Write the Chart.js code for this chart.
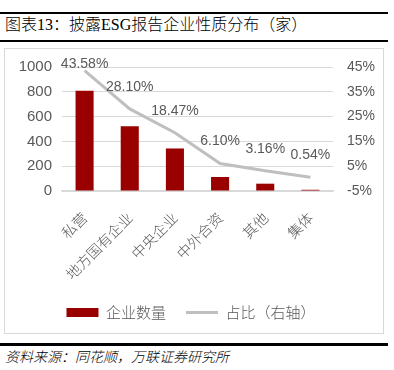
<!DOCTYPE html>
<html>
<head>
<meta charset="utf-8">
<script src="https://cdn.jsdelivr.net/npm/chart.js@4"></script>
<style>
  html, body { margin: 0; padding: 0; background: #fff; }
  #page { position: relative; width: 394px; height: 370px; overflow: hidden; }
  .rule { position: absolute; left: 0; width: 388px; background: #000; }
  #title {
    position: absolute; left: 5px; top: 15px;
    font: 300 16px "Liberation Serif", "Noto Sans CJK SC", serif; color: #000;
    white-space: nowrap; line-height: 20px;
  }
  #frame {
    position: absolute; left: 4px; top: 48px; width: 378px; height: 284px;
    border: 1px solid #d9d9d9;
  }
  #source {
    position: absolute; left: 5px; top: 347px;
    font: italic 300 14px "Noto Sans CJK SC", sans-serif; color: #000;
    white-space: nowrap; line-height: 18px;
  }
  #chart { position: absolute; left: 0; top: 0; }
</style>
</head>
<body>
<div id="page">
  <div class="rule" style="top:12px;height:2px"></div>
  <div id="title">图表13：披露ESG报告企业性质分布（家）</div>
  <div class="rule" style="top:40px;height:1.5px"></div>
  <div id="frame"></div>
  <div class="rule" style="top:343px;height:2.5px"></div>
  <div id="source">资料来源：同花顺，万联证券研究所</div>
  <canvas id="chart" width="394" height="370"></canvas>
</div>
<script>
// ── data ──────────────────────────────────────────────────────────────────────
var categories = ["私营", "地方国有企业", "中央企业", "中外合资", "其他", "集体"];
var counts     = [809, 522, 343, 113, 59, 10];
var shares     = [43.58, 28.10, 18.47, 6.10, 3.16, 0.54];

var countTicks = [0, 200, 400, 600, 800, 1000];
var shareTicks = [-5, 5, 15, 25, 35, 45];

var GRAY_TEXT = "#595959";
var GRID      = "#d9d9d9";
var BAR_RED   = "#990000";
var LINE_GRAY = "#bfbfbf";

// ── value labels above the share line ─────────────────────────────────────────
var shareLabels = {
  id: "shareLabels",
  afterDatasetsDraw: function(chart) {
    var ctx  = chart.ctx;
    var meta = chart.getDatasetMeta(1);
    ctx.save();
    ctx.font = "14px 'Liberation Sans', Arial, sans-serif";
    ctx.fillStyle = GRAY_TEXT;
    ctx.textAlign = "center";
    ctx.textBaseline = "middle";
    meta.data.forEach(function(pt, i) {
      var y = Math.max(pt.y - 22, chart.chartArea.top - 3);
      ctx.fillText(shares[i].toFixed(2) + "%", pt.x, y);
    });
    ctx.restore();
  }
};

// ── chart ─────────────────────────────────────────────────────────────────────
var ctx = document.getElementById("chart").getContext("2d");
new Chart(ctx, {
  type: "bar",
  data: {
    labels: categories,
    datasets: [
      {
        type: "bar",
        label: "企业数量",
        data: counts,
        backgroundColor: BAR_RED,
        borderWidth: 0,
        barPercentage: 0.4,
        categoryPercentage: 1,
        pointStyle: "rect",
        yAxisID: "y"
      },
      {
        type: "line",
        label: "占比（右轴）",
        data: shares,
        borderColor: LINE_GRAY,
        backgroundColor: LINE_GRAY,
        borderWidth: 3,
        pointRadius: 0,
        tension: 0,
        pointStyle: "line",
        yAxisID: "y1"
      }
    ]
  },
  options: {
    responsive: false,
    animation: false,
    layout: { padding: { left: 0, right: 12, top: 67, bottom: 40 } },
    plugins: {
      tooltip: { enabled: false },
      legend: {
        position: "bottom",
        labels: {
          usePointStyle: true,
          pointStyleWidth: 32,
          boxHeight: 9,
          padding: 20,
          color: GRAY_TEXT,
          font: { family: "'Noto Sans CJK SC', sans-serif", size: 15, weight: 300 }
        }
      }
    },
    scales: {
      x: {
        grid: { display: false },
        border: { color: GRID, width: 1.5 },
        ticks: {
          color: GRAY_TEXT,
          font: { family: "'Noto Sans CJK SC', sans-serif", size: 14.5, weight: 300 },
          minRotation: 45,
          maxRotation: 45,
          autoSkip: false,
          padding: 10
        },
        afterFit: function(s) { s.height = 94; }
      },
      y: {
        position: "left",
        min: 0,
        max: 1000,
        afterBuildTicks: function(s) { s.ticks = countTicks.map(function(v) { return { value: v }; }); },
        grid: { color: GRID, drawTicks: false },
        border: { display: false },
        ticks: {
          color: GRAY_TEXT,
          font: { family: "'Liberation Sans', Arial, sans-serif", size: 15 },
          padding: 10,
          callback: function(v) { return String(v); }
        },
        afterFit: function(s) { s.width = 62; }
      },
      y1: {
        position: "right",
        min: -5,
        max: 45,
        afterBuildTicks: function(s) { s.ticks = shareTicks.map(function(v) { return { value: v }; }); },
        grid: { display: false, drawTicks: false },
        border: { display: false },
        ticks: {
          color: GRAY_TEXT,
          font: { family: "'Liberation Sans', Arial, sans-serif", size: 14 },
          padding: 14,
          callback: function(v) { return v + "%"; }
        },
        afterFit: function(s) { s.width = 49; }
      }
    }
  },
  plugins: [shareLabels]
});
</script>
</body>
</html>
